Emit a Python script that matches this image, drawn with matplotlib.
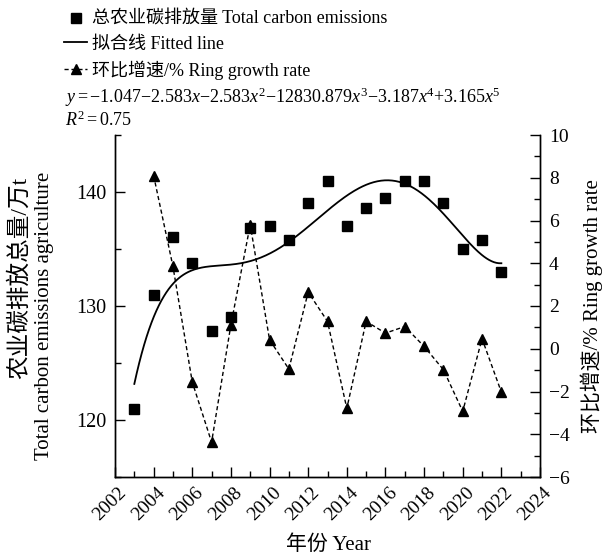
import numpy as np
import matplotlib
matplotlib.use("Agg")
import matplotlib.pyplot as plt
from matplotlib.ticker import MultipleLocator
from matplotlib.transforms import ScaledTranslation

plt.rcParams['font.family'] = ['Liberation Serif', 'Noto Sans CJK SC']
plt.rcParams['mathtext.fontset'] = 'custom'
plt.rcParams['mathtext.rm'] = 'Liberation Serif'
plt.rcParams['mathtext.it'] = 'Liberation Serif:italic'
plt.rcParams['axes.unicode_minus'] = True

# ---- data ----
years = [2003, 2004, 2005, 2006, 2007, 2008, 2009, 2010, 2011, 2012,
         2013, 2014, 2015, 2016, 2017, 2018, 2019, 2020, 2021, 2022]
emissions = [121.0, 131.0, 136.05, 133.8, 127.8, 129.0, 136.8, 137.0, 135.8, 139.0,
             141.0, 137.0, 138.6, 139.5, 141.0, 141.0, 139.0, 135.0, 135.8, 133.0]
growth_years = [2004, 2005, 2006, 2007, 2008, 2009, 2010, 2011, 2012, 2013,
                2014, 2015, 2016, 2017, 2018, 2019, 2020, 2021, 2022]
growth = [8.1, 3.85, -1.56, -4.37, 1.12, 5.8, 0.42, -0.95, 2.65, 1.28,
          -2.79, 1.28, 0.73, 1.04, 0.11, -0.98, -2.93, 0.47, -2.03]

label_sq = '总农业碳排放量 Total carbon emissions'
label_fit = '拟合线 Fitted line'
label_gr = '环比增速/% Ring growth rate'
equation = r'$y{=}{-}1.047{-}2.583x{-}2.583x^{2}{-}12830.879x^{3}{-}3.187x^{4}{+}3.165x^{5}$'
r2_text = r'$R^{2}{=}0.75$'

# fitted curve (5th-degree least squares fit of the emissions)
yr = np.array(years, dtype=float)
coef = np.polyfit(yr - 2012.5, np.array(emissions), 5)
xf = np.linspace(2003, 2022, 300)
yf = np.polyval(coef, xf - 2012.5)

W, H = 609, 558
fig = plt.figure(figsize=(W / 100, H / 100), dpi=100)
ax = fig.add_axes([115 / W, 81 / H, 425 / W, 342 / H])
ax2 = ax.twinx()

sq, = ax.plot(years, emissions, linestyle='none', marker='s', markersize=6.5,
              color='black')
fit, = ax.plot(xf, yf, color='black', linewidth=1.3)
gr, = ax2.plot(growth_years, growth, linestyle=(0, (3, 2)), linewidth=1.0,
               marker='^', markersize=7.5, color='black')

ax.set_xlim(2002, 2024)
ax.set_ylim(115, 145)
ax2.set_ylim(-6, 10)

for a in (ax, ax2):
    a.spines['top'].set_visible(False)
    for s in a.spines.values():
        s.set_linewidth(1.0)

ax.xaxis.set_major_locator(MultipleLocator(2))
ax.xaxis.set_minor_locator(MultipleLocator(1))
ax.yaxis.set_major_locator(MultipleLocator(10))
ax.yaxis.set_minor_locator(MultipleLocator(5))
ax2.yaxis.set_major_locator(MultipleLocator(2))
ax2.yaxis.set_minor_locator(MultipleLocator(1))

ax.tick_params(which='both', direction='in', top=False, right=False, width=1.0)
ax.tick_params(which='major', length=7)
ax.tick_params(which='minor', length=4)
ax.tick_params(axis='y', which='major', labelsize=14.5, pad=6.5)
ax.tick_params(axis='x', which='major', labelsize=14, pad=5)
ax2.tick_params(which='both', direction='in', width=1.0)
ax2.tick_params(which='major', length=7, labelsize=14, pad=6.5)
ax2.tick_params(which='minor', length=4)

offset = ScaledTranslation(-5 / 100, 0, fig.dpi_scale_trans)
for lbl in ax.get_xticklabels():
    lbl.set_rotation(45)
    lbl.set_ha('center')
    lbl.set_transform(lbl.get_transform() + offset)

# axis labels
fig.text(328 / W, 1 - 545 / H, '年份 Year', ha='center', va='center', fontsize=15)
fig.text(20 / W, 1 - 177 / H, '农业碳排放总量/万t', rotation=90, ha='center',
         va='top', fontsize=17)
fig.text(45 / W, 1 - 172 / H, 'Total carbon emissions agriculture', rotation=90,
         ha='center', va='top', fontsize=15)
fig.text(592 / W, 1 - 306 / H, '环比增速/% Ring growth rate', rotation=90,
         ha='center', va='center', fontsize=15)

# legend
fig.legend([sq, fit, gr], [label_sq, label_fit, label_gr], loc='upper left',
           bbox_to_anchor=(64 / W, 1 - 11 / H), frameon=False, fontsize=13,
           handlelength=1.3, handletextpad=0.25, labelspacing=0.42,
           borderaxespad=0, borderpad=0)

fig.text(65 / W, 1 - 97 / H, equation, ha='left', va='center', fontsize=13)
fig.text(65 / W, 1 - 120 / H, r2_text, ha='left', va='center', fontsize=13)

fig.savefig('out.png', dpi=100, facecolor='white')
